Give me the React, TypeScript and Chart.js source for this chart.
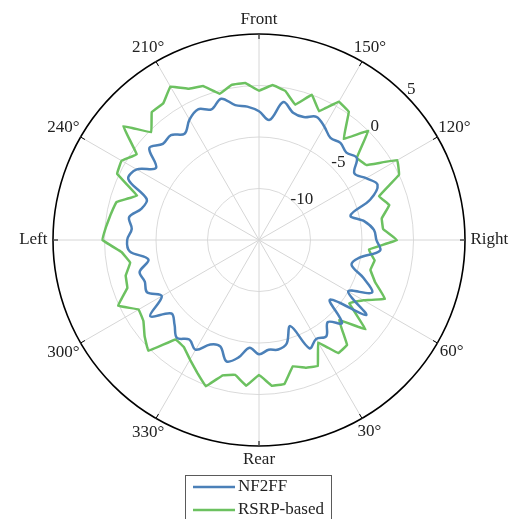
import React, { useEffect, useRef } from 'react';
import { Chart, registerables } from 'chart.js';

Chart.register(...registerables);

// Angles (degrees, 0 = Rear, counter-clockwise on screen toward Right)
const thetaDeg = [
  0, 5, 10, 15, 20, 25, 30, 35, 40, 45, 50, 55, 60, 65, 70, 75, 80, 85,
  90, 95, 100, 105, 110, 115, 120, 125, 130, 135, 140, 145, 150, 155, 160, 165, 170, 175,
  180, 185, 190, 195, 200, 205, 210, 215, 220, 225, 230, 235, 240, 245, 250, 255, 260, 265,
  270, 275, 280, 285, 290, 295, 300, 305, 310, 315, 320, 325, 330, 335, 340, 345, 350, 355,
];

// NF2FF (dB)
const nf2ff = [
  -3.9, -4.3, -4.2, -4.6, -6.1, -3.4, -3.9, -3.6, -4.6, -3.6, -6.0, -2.3, -5.0, -2.9, -4.2, -5.7, -5.1, -3.2,
  -3.6, -3.8, -4.6, -5.8, -3.5, -2.3, -3.0, -3.7, -2.6, -3.0, -2.7, -2.9, -2.3, -1.8, -2.3, -2.2, -1.4, -3.3,
  -2.5, -2.0, -1.7, -0.8, -1.5, -1.0, -1.5, -2.4, -1.7, -1.8, -1.1, -2.8, -1.3, -1.0, -3.4, -3.2, -2.2, -2.6,
  -2.2, -2.4, -4.1, -3.0, -3.2, -3.0, -4.1, -2.1, -3.9, -3.4, -2.6, -3.2, -2.7, -3.8, -4.0, -2.8, -3.4, -4.5,
];

// RSRP-based (dB)
const rsrp = [
  -1.9, -0.8, -0.8, -2.3, -1.8, -1.5, -3.5, -1.6, -1.7, -4.0, -1.5, -4.3, -3.3, -1.5, -3.0, -3.8, -3.6, -4.3,
  -1.6, -2.9, -2.9, -1.9, -2.6, 0.0, 0.5, -2.3, -2.6, 0.0, -2.2, 0.2, 0.5, -1.2, 0.0, -1.4, -0.3, 0.1,
  -0.5, 0.3, 0.3, -0.3, 0.9, 1.2, 2.2, 1.2, 1.2, -0.2, 2.2, -0.5, 0.4, 0.2, -2.4, -0.7, -0.4, -0.1,
  0.2, -1.6, -2.3, -1.6, -1.4, 0.1, -1.5, -1.3, -0.5, 0.2, -2.4, -2.3, -1.6, -0.8, 0.1, -1.4, -1.7, -0.8,
];

const angleTickValues = [0, 30, 60, 90, 120, 150, 180, 210, 240, 270, 300, 330];
const angleTickLabels = ['Rear', '30°', '60°', 'Right', '120°', '150°', 'Front', '210°', '240°', 'Left', '300°', '330°'];
const radialTicks = [-10, -5, 0, 5];
const seriesNames = ['NF2FF', 'RSRP-based'];

const R_MIN = -15;
const R_MAX = 5;
const FONT = '17px "Liberation Serif", "Times New Roman", serif';
const BLUE = '#4b80b8';
const GREEN = '#6cc160';

const STEP = thetaDeg[1] - thetaDeg[0];
const N = thetaDeg.length;
// radar goes clockwise from top (Front = 180°); angle decreases clockwise
const indexTheta = thetaDeg.map((_, i) => ((180 - i * STEP) % 360 + 360) % 360);
const idxOf = (theta: number) => thetaDeg.indexOf(theta);
const labels = indexTheta.map((t) => String(t));
const blueData = indexTheta.map((t) => nf2ff[idxOf(t)]);
const greenData = indexTheta.map((t) => rsrp[idxOf(t)]);
const indexForTheta = (theta: number) => (((180 - theta) % 360 + 360) % 360) / STEP;

const decorPlugin = {
  id: 'polarDecor',
  afterDraw(chart: any) {
    const scale = chart.scales.r;
    const ctx = chart.ctx;
    const outer = scale.drawingArea;
    const xc = scale.xCenter;
    const yc = scale.yCenter;
    ctx.save();
    // outer tick marks
    ctx.strokeStyle = '#000';
    ctx.lineWidth = 1;
    angleTickValues.forEach((t) => {
      const i = indexForTheta(t);
      const a = scale.getPointPosition(i, outer);
      const b = scale.getPointPosition(i, outer - 5);
      ctx.beginPath();
      ctx.moveTo(a.x, a.y);
      ctx.lineTo(b.x, b.y);
      ctx.stroke();
    });
    // angle labels
    ctx.font = FONT;
    ctx.fillStyle = '#222';
    ctx.textAlign = 'center';
    ctx.textBaseline = 'middle';
    angleTickValues.forEach((t, k) => {
      const i = indexForTheta(t);
      const u = scale.getPointPosition(i, 100);
      const ux = (u.x - xc) / 100;
      const hw = ctx.measureText(angleTickLabels[k]).width / 2;
      const d = outer + 14 + Math.max(0, hw - 8.5) * ux * ux;
      const p = scale.getPointPosition(i, d);
      ctx.fillText(angleTickLabels[k], p.x, p.y);
    });
    // radial tick labels along 45° (upper right)
    const ri = 45 / STEP;
    radialTicks.forEach((v) => {
      const p = scale.getPointPosition(ri, scale.getDistanceFromCenterForValue(v));
      ctx.fillText(String(v), p.x + 6.5, p.y - 4.5);
    });
    // legend
    const lx = 185.5;
    const ly = 475.5;
    ctx.strokeStyle = '#5a5a5a';
    ctx.lineWidth = 1;
    ctx.strokeRect(lx, ly, 146, 60);
    ctx.textAlign = 'left';
    chart.data.datasets.forEach((ds: any, k: number) => {
      const y = 487 + k * 23;
      ctx.strokeStyle = ds.borderColor;
      ctx.lineWidth = 2.5;
      ctx.beginPath();
      ctx.moveTo(193, y);
      ctx.lineTo(235, y);
      ctx.stroke();
      ctx.fillStyle = '#222';
      ctx.fillText(ds.label, 238, y);
    });
    ctx.restore();
  },
};

export default function App() {
  const ref = useRef<HTMLCanvasElement | null>(null);
  useEffect(() => {
    document.body.style.margin = '0';
    const canvas = ref.current;
    if (!canvas) return;
    Chart.defaults.font.family = '"Liberation Serif", "Times New Roman", serif';
    Chart.defaults.font.size = 17;
    const chart = new Chart(canvas, {
      type: 'radar',
      data: {
        labels,
        datasets: [
          {
            label: seriesNames[0],
            data: blueData,
            borderColor: BLUE,
            backgroundColor: BLUE,
            borderWidth: 2.5,
            pointRadius: 0,
            fill: false,
            tension: 0.35,
            borderJoinStyle: 'round',
          },
          {
            label: seriesNames[1],
            data: greenData,
            borderColor: GREEN,
            backgroundColor: GREEN,
            borderWidth: 2.5,
            pointRadius: 0,
            fill: false,
            tension: 0.05,
            borderJoinStyle: 'round',
          },
        ],
      },
      options: {
        responsive: false,
        animation: false,
        devicePixelRatio: 1,
        layout: { padding: { left: 53, right: 50, top: 34, bottom: 73 } },
        plugins: { legend: { display: false }, tooltip: { enabled: false } },
        scales: {
          r: {
            min: R_MIN,
            max: R_MAX,
            ticks: { display: false, stepSize: 5 },
            pointLabels: { display: false },
            grid: {
              circular: true,
              color: (c: any) => (c.tick && c.tick.value === R_MAX ? '#000' : '#dadada'),
              lineWidth: (c: any) => (c.tick && c.tick.value === R_MAX ? 1.6 : 1),
            },
            angleLines: {
              display: true,
              color: (c: any) => (c.index % (30 / STEP) === 0 ? '#d6d6d6' : 'rgba(0,0,0,0)'),
              lineWidth: (c: any) => (c.index % (30 / STEP) === 0 ? 1 : 0),
            },
          },
        },
      },
      plugins: [decorPlugin],
    });
    return () => chart.destroy();
  }, []);
  return (
    <div style={{ width: 515, height: 519 }}>
      <canvas ref={ref} width={515} height={519} style={{ width: 515, height: 519, display: 'block' }} />
    </div>
  );
}
